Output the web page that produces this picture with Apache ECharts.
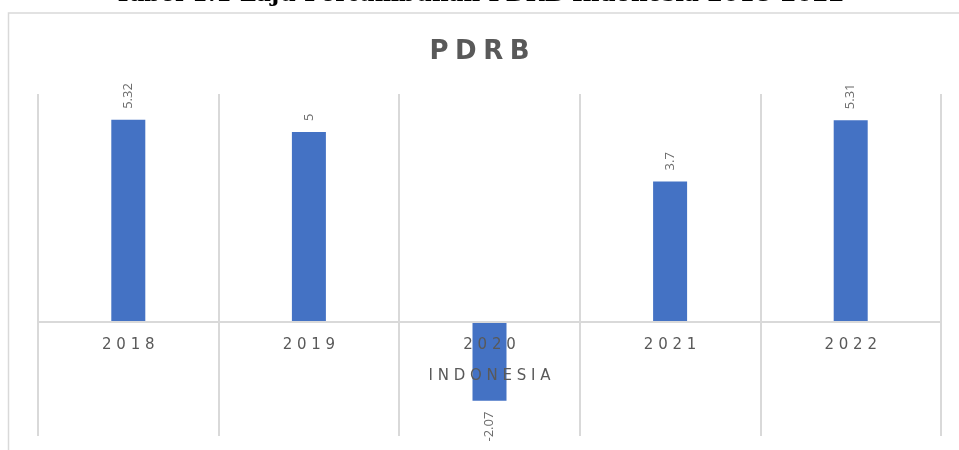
<!DOCTYPE html>
<html>
<head>
<meta charset="utf-8">
<script src="https://cdn.jsdelivr.net/npm/echarts@6/dist/echarts.min.js"></script>
<style>
html,body{margin:0;padding:0;background:#fff;}
#chart{width:959px;height:450px;}
</style>
</head>
<body>
<div id="chart"></div>
<script>
var pageHeading = 'Tabel 1.1 Laju Pertumbuhan PDRB Indonesia 2018-2022';
var chartTitle = 'PDRB';
var axisName = 'INDONESIA';
var categories = ['2018', '2019', '2020', '2021', '2022'];
var values = [5.32, 5, -2.07, 3.7, 5.31];
var yMin = -3, yMax = 6;

function spaced(s, sep) { return s.split('').join(sep || ' '); }

var gridTop = 94, gridBottom = 14, H = 450;
var gridHeight = H - gridTop - gridBottom;
var zeroOffset = gridHeight * (0 - yMin) / (yMax - yMin);

var chart = echarts.init(document.getElementById('chart'));
var seriesData = values.map(function (v) {
  return v < 0
    ? { value: v, label: { position: 'bottom', align: 'right' } }
    : { value: v };
});

chart.setOption({
  animation: false,
  title: {
    text: spaced(chartTitle, '\u2005'),
    left: 'center',
    top: 34,
    textStyle: { fontFamily: 'DejaVu Sans', fontSize: 26, fontWeight: 'bold', color: '#595959' }
  },
  graphic: [
    { type: 'rect', shape: { x: 8.5, y: 13, width: 1000, height: 500 },
      style: { fill: 'none', stroke: '#d9d9d9', lineWidth: 1.5 }, silent: true, z: -10 },
    { type: 'text', left: 'center', top: -16,
      style: { text: pageHeading, font: 'bold 23px "DejaVu Serif"', fill: '#000' } }
  ],
  grid: { left: 38, right: 18, top: gridTop, bottom: gridBottom, outerBoundsMode: 'none', containLabel: false },
  xAxis: [{
    type: 'category',
    data: categories,
    z: 1,
    axisLine: { show: false },
    axisTick: { show: false },
    axisLabel: { show: false },
    splitLine: { show: true, showMinLine: true, showMaxLine: true, lineStyle: { color: '#d9d9d9', width: 2 } }
  }, {
    type: 'category',
    data: categories,
    position: 'bottom',
    offset: -zeroOffset,
    z: 5,
    name: spaced(axisName),
    nameLocation: 'middle',
    nameGap: 47,
    nameTextStyle: { fontFamily: 'DejaVu Sans', fontSize: 15, color: '#595959' },
    axisLine: { onZero: false, lineStyle: { color: '#d9d9d9', width: 2 } },
    axisTick: { show: false },
    axisLabel: {
      margin: 16,
      fontFamily: 'DejaVu Sans', fontSize: 15, color: '#595959',
      formatter: function (v) { return spaced(v); }
    },
    splitLine: { show: false }
  }],
  yAxis: {
    type: 'value',
    min: yMin, max: yMax, interval: 1,
    axisLabel: { show: false },
    axisLine: { show: false },
    axisTick: { show: false },
    splitLine: { show: false }
  },
  series: [{
    type: 'bar',
    data: seriesData,
    barWidth: 34,
    itemStyle: { color: '#4472C4' },
    label: {
      show: true,
      position: 'top',
      rotate: 90,
      align: 'left',
      verticalAlign: 'middle',
      distance: 11,
      fontFamily: 'Open Sans',
      fontSize: 13,
      color: '#6b6b6b'
    }
  }]
});
</script>
</body>
</html>
